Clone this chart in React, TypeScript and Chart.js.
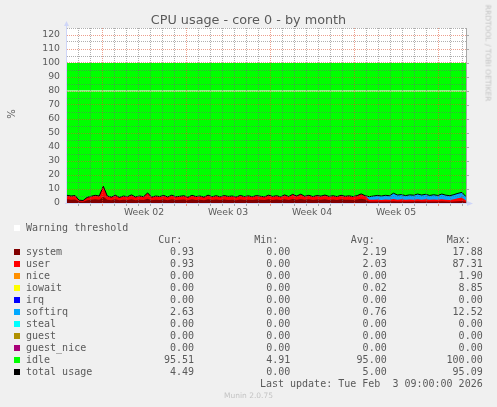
import React, { useEffect, useRef } from "react";
import { Chart, registerables } from "chart.js";

Chart.register(...registerables);

const title = "CPU usage - core 0 - by month";
const weekLabels = ["Week 02", "Week 03", "Week 04", "Week 05"];
const weekStarts = [3, 10, 17, 24, 31]; // day offsets of the monday grid lines
const warning = 80;
const xMin = 0.08;
const xMax = 33.33;

const systemValues = [
  2.6, 2.4, 2.5, 1.0, 0.9, 1.9, 2.3, 2.6, 2.4, 4.5,
  2.4, 2.0, 2.6, 1.9, 2.4, 2.1, 2.7, 2.0, 2.4, 2.1,
  3.0, 2.0, 2.4, 2.2, 2.5, 2.0, 2.6, 2.1, 2.3, 2.5,
  1.9, 2.6, 2.2, 2.4, 2.0, 2.6, 2.1, 2.5, 2.1, 2.5,
  2.2, 2.4, 2.0, 2.5, 2.2, 2.4, 2.1, 2.5, 2.3, 2.1,
  2.6, 2.2, 2.5, 2.1, 2.7, 2.2, 2.9, 2.4, 2.9, 2.3,
  2.6, 2.2, 2.5, 2.3, 2.7, 2.2, 2.5, 2.2, 2.6, 2.3,
  2.4, 2.2, 2.5, 3.0, 2.5, 1.1, 1.0, 1.1, 1.0, 1.1,
  1.0, 1.2, 1.0, 1.1, 1.0, 1.1, 1.0, 1.2, 1.0, 1.1,
  1.0, 1.1, 1.0, 1.2, 1.0, 0.9, 1.1, 1.3, 1.4, 0.93,
];

const userValues = [
  2.9, 2.6, 2.8, 1.0, 0.9, 2.1, 2.5, 2.9, 2.6, 7.5,
  2.6, 2.2, 2.9, 2.1, 2.6, 2.4, 3.1, 2.3, 2.6, 2.4,
  4.2, 2.2, 2.6, 2.4, 2.9, 2.3, 3.0, 2.3, 2.5, 2.7,
  2.2, 2.9, 2.4, 2.6, 2.2, 3.0, 2.4, 2.7, 2.3, 2.8,
  2.5, 2.6, 2.3, 2.9, 2.4, 2.7, 2.4, 2.8, 2.5, 2.3,
  3.0, 2.5, 2.7, 2.3, 3.1, 2.4, 3.3, 2.6, 3.4, 2.5,
  2.9, 2.4, 2.8, 2.6, 3.0, 2.5, 2.7, 2.4, 2.9, 2.5,
  2.7, 2.4, 2.8, 3.5, 2.7, 1.2, 1.3, 1.4, 1.2, 1.4,
  1.3, 1.6, 1.4, 1.5, 1.3, 1.4, 1.4, 1.5, 1.4, 1.5,
  1.3, 1.4, 1.3, 1.5, 1.4, 1.3, 1.6, 2.1, 2.6, 0.93,
];

const softirqValues = [
  0, 0, 0, 0, 0, 0, 0, 0, 0, 0,
  0, 0, 0, 0, 0, 0, 0, 0, 0, 0,
  0, 0, 0, 0, 0, 0, 0, 0, 0, 0,
  0, 0, 0, 0, 0, 0, 0, 0, 0, 0,
  0, 0, 0, 0, 0, 0, 0, 0, 0, 0,
  0, 0, 0, 0, 0, 0, 0, 0, 0, 0,
  0, 0, 0, 0, 0, 0, 0, 0, 0, 0,
  0, 0, 0, 0, 0, 2.2, 2.7, 2.9, 2.8, 3.0,
  2.9, 4.2, 3.3, 3.4, 3.0, 3.3, 3.2, 3.7, 3.3, 3.6,
  3.1, 3.4, 3.1, 3.7, 3.2, 3.0, 3.3, 3.5, 3.6, 2.63,
];

const legendNames = ["system", "user", "nice", "iowait", "irq", "softirq", "steal", "guest", "guest_nice", "idle", "total usage"];
const legendColors = ["#800000", "#ff0000", "#ff9000", "#ffff00", "#0000ff", "#00a8ff", "#00ffff", "#b09000", "#a80078", "#00ff00", "#000000"];
const curValues = [0.93, 0.93, 0.0, 0.0, 0.0, 2.63, 0.0, 0.0, 0.0, 95.51, 4.49];
const minValues = [0.0, 0.0, 0.0, 0.0, 0.0, 0.0, 0.0, 0.0, 0.0, 4.91, 0.0];
const avgValues = [2.19, 2.03, 0.0, 0.02, 0.0, 0.76, 0.0, 0.0, 0.0, 95.0, 5.0];
const maxValues = [17.88, 87.31, 1.9, 8.85, 0.0, 12.52, 0.0, 0.0, 0.0, 100.0, 95.09];
const lastUpdate = "Last update: Tue Feb  3 09:00:00 2026";

const GRID = "rgba(110,110,110,0.55)";
const MGRID = "rgba(222,80,48,0.55)";
const AXIS = "#cfd6f8";
const FONT = "#5a5a5a";

const axisDecor = {
  id: "axisDecor",
  beforeDraw(chart: any) {
    const { ctx, chartArea: a } = chart;
    ctx.save();
    ctx.fillStyle = "#ffffff";
    ctx.fillRect(a.left, a.top, a.right - a.left, a.bottom - a.top);
    ctx.restore();
  },
  afterDraw(chart: any) {
    const { ctx, chartArea: a, scales } = chart;
    ctx.save();
    // right frame with small ticks
    ctx.strokeStyle = "#a8a8a8";
    ctx.lineWidth = 1;
    ctx.beginPath();
    ctx.moveTo(a.right + 0.5, a.top);
    ctx.lineTo(a.right + 0.5, a.bottom);
    for (let v = 0; v <= 120; v += 10) {
      const py = Math.round(scales.y.getPixelForValue(v)) + 0.5;
      ctx.moveTo(a.right, py);
      ctx.lineTo(a.right + 3, py);
    }
    ctx.stroke();
    // axes
    ctx.strokeStyle = AXIS;
    ctx.beginPath();
    ctx.moveTo(a.left - 0.5, a.bottom + 0.5);
    ctx.lineTo(a.left - 0.5, a.top - 3);
    ctx.moveTo(a.left - 2, a.bottom + 0.5);
    ctx.lineTo(a.right + 3, a.bottom + 0.5);
    ctx.stroke();
    ctx.fillStyle = AXIS;
    ctx.beginPath();
    ctx.moveTo(a.left - 3, a.top - 2);
    ctx.lineTo(a.left + 2, a.top - 2);
    ctx.lineTo(a.left - 0.5, a.top - 7);
    ctx.closePath();
    ctx.fill();
    ctx.beginPath();
    ctx.moveTo(a.right + 1, a.bottom - 2);
    ctx.lineTo(a.right + 1, a.bottom + 3);
    ctx.lineTo(a.right + 7, a.bottom + 0.5);
    ctx.closePath();
    ctx.fill();
    ctx.restore();
  },
};

const mono = "'DejaVu Sans Mono', monospace";
const valueRights = [194, 290.3, 386.7, 482.7];
const headerLefts = [158.3, 254.3, 350.7, 446.7];
const headers = ["Cur:", "Min:", "Avg:", "Max:"];

const textStyle = (top: number): React.CSSProperties => ({
  position: "absolute",
  top: top - 6,
  height: 12,
  lineHeight: "12px",
  fontFamily: mono,
  fontSize: 10,
  color: FONT,
  whiteSpace: "pre",
});

const App: React.FC = () => {
  const chartRef = useRef<HTMLCanvasElement | null>(null);
  const chartInstanceRef = useRef<Chart | null>(null);

  useEffect(() => {
    if (!chartRef.current) return;
    const n = systemValues.length;
    const xs = systemValues.map((_, i) => xMin + (i * (xMax - xMin)) / (n - 1));
    const totals = systemValues.map((s, i) => s + userValues[i] + softirqValues[i]);
    const idle = totals.map((t) => 100 - t);
    const stacked = (label: string, values: number[], color: string) => ({
      label,
      data: xs.map((x, i) => ({ x, y: values[i] })),
      backgroundColor: color,
      borderColor: "rgba(0,0,0,0)",
      borderWidth: 0,
      fill: "origin",
      stack: "cpu",
      order: 1,
    });
    const weekCenters = weekStarts.slice(0, weekLabels.length).map((s) => s + 3.5);

    if (chartInstanceRef.current) chartInstanceRef.current.destroy();
    chartInstanceRef.current = new Chart(chartRef.current, {
      type: "line",
      data: {
        datasets: [
          {
            label: "total usage",
            data: xs.map((x, i) => ({ x, y: totals[i] })),
            borderColor: "#000000",
            borderWidth: 1,
            fill: false,
            stack: "total",
            order: 0,
          },
          {
            label: "Warning threshold",
            data: [
              { x: xMin, y: warning },
              { x: xMax, y: warning },
            ],
            borderColor: "#ffffff",
            borderWidth: 1.2,
            fill: false,
            stack: "warn",
            order: 0,
          },
          stacked("system", systemValues, legendColors[0]),
          stacked("user", userValues, legendColors[1]),
          stacked("softirq", softirqValues, legendColors[5]),
          stacked("idle", idle, legendColors[9]),
        ] as any,
      },
      options: {
        animation: false,
        responsive: false,
        layout: { padding: { left: 0, right: 31, top: 28, bottom: 0 } },
        elements: { point: { radius: 0 }, line: { tension: 0 } },
        plugins: { legend: { display: false }, tooltip: { enabled: false }, title: { display: false } },
        scales: {
          x: {
            type: "linear",
            min: xMin,
            max: xMax,
            afterFit: (s: any) => {
              s.height = 19;
            },
            afterBuildTicks: (s: any) => {
              const t: { value: number }[] = [];
              for (let d = 1; d <= 33; d++) t.push({ value: d });
              weekCenters.forEach((c) => t.push({ value: c }));
              t.sort((p, q) => p.value - q.value);
              s.ticks = t;
            },
            grid: {
              z: 1,
              lineWidth: 1,
              tickLength: 3,
              color: (ctx: any) => {
                const v = ctx.tick ? ctx.tick.value : 0;
                if (!Number.isInteger(v)) return "rgba(0,0,0,0)";
                return weekStarts.includes(v) ? MGRID : GRID;
              },
            },
            border: { display: false, dash: [1, 1] },
            ticks: {
              autoSkip: false,
              maxRotation: 0,
              padding: 1,
              color: FONT,
              font: { family: "DejaVu Sans", size: 9.3 },
              callback: (v: any) => {
                const k = weekCenters.indexOf(Number(v));
                return k >= 0 ? weekLabels[k] : "";
              },
            },
          },
          y: {
            stacked: true,
            min: 0,
            max: 125,
            afterFit: (s: any) => {
              s.width = 67;
            },
            grid: {
              z: 1,
              lineWidth: 1,
              drawTicks: false,
              color: (ctx: any) => {
                const v = ctx.tick ? ctx.tick.value : 0;
                return v % 10 === 0 ? MGRID : GRID;
              },
            },
            border: { display: false, dash: [1, 1] },
            ticks: {
              stepSize: 5,
              autoSkip: false,
              padding: 7,
              color: FONT,
              font: { family: "DejaVu Sans", size: 9.3 },
              callback: (v: any) => (Number(v) % 10 === 0 ? String(v) : ""),
            },
          },
        },
      } as any,
      plugins: [axisDecor],
    });

    return () => {
      if (chartInstanceRef.current) {
        chartInstanceRef.current.destroy();
        chartInstanceRef.current = null;
      }
    };
  }, []);

  const rowTop = (k: number) => 252.3 + k * 12;

  return (
    <div
      style={{
        position: "absolute",
        left: 0,
        top: 0,
        width: 497,
        height: 407,
        background: "#f0f0f0",
        overflow: "hidden",
        fontFamily: "'DejaVu Sans', sans-serif",
      }}
    >
      <canvas ref={chartRef} width={497} height={222} style={{ position: "absolute", left: 0, top: 0 }} />
      <div
        style={{
          position: "absolute",
          left: 0,
          width: 497,
          top: 11.5,
          textAlign: "center",
          fontSize: 12.8,
          color: FONT,
          lineHeight: "16px",
        }}
      >
        {title}
      </div>
      <div
        style={{
          position: "absolute",
          left: 10.5,
          top: 114,
          transform: "translate(-50%, -50%) rotate(-90deg)",
          fontSize: 10,
          color: FONT,
          whiteSpace: "nowrap",
        }}
      >
        %
      </div>
      <div
        style={{
          position: "absolute",
          left: 488,
          top: 53,
          transform: "translate(-50%, -50%) rotate(90deg)",
          fontSize: 7.5,
          color: "#c4c4c4",
          whiteSpace: "nowrap",
        }}
      >
        RRDTOOL / TOBI OETIKER
      </div>

      <div style={{ position: "absolute", left: 14, top: 228.3 - 3, width: 6, height: 6, background: "#ffffff" }} />
      <div style={{ ...textStyle(228.3), left: 26 }}>Warning threshold</div>

      {headers.map((h, j) => (
        <div key={h} style={{ ...textStyle(240.3), left: headerLefts[j] }}>
          {h}
        </div>
      ))}

      {legendNames.map((name, k) => (
        <React.Fragment key={name}>
          <div
            style={{
              position: "absolute",
              left: 14,
              top: rowTop(k) - 3,
              width: 6,
              height: 6,
              background: legendColors[k],
            }}
          />
          <div style={{ ...textStyle(rowTop(k)), left: 26 }}>{name}</div>
          {[curValues, minValues, avgValues, maxValues].map((arr, j) => (
            <div key={j} style={{ ...textStyle(rowTop(k)), right: 497 - valueRights[j], textAlign: "right" }}>
              {arr[k].toFixed(2)}
            </div>
          ))}
        </React.Fragment>
      ))}

      <div style={{ ...textStyle(384.3), right: 497 - valueRights[3], textAlign: "right" }}>{lastUpdate}</div>
      <div
        style={{
          position: "absolute",
          left: 0,
          width: 497,
          top: 391,
          textAlign: "center",
          fontSize: 7.5,
          color: "#c4c4c4",
          lineHeight: "10px",
        }}
      >
        Munin 2.0.75
      </div>
    </div>
  );
};

export default App;
